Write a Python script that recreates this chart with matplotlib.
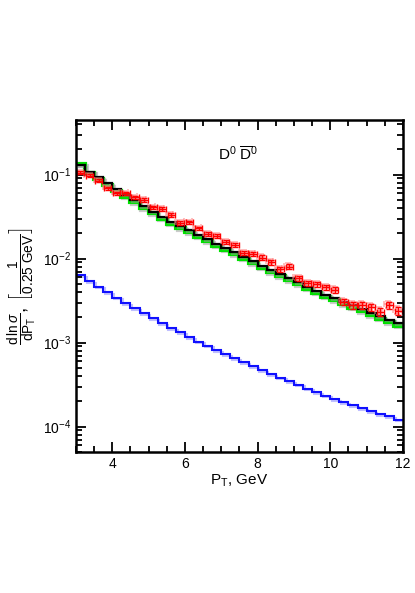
import numpy as np
import matplotlib
matplotlib.use('Agg')
import matplotlib.pyplot as plt
import matplotlib.patheffects as pe
import matplotlib.transforms as mtransforms
from matplotlib.ticker import MultipleLocator, LogLocator, NullFormatter

plt.rcParams['font.family'] = ['Liberation Sans', 'DejaVu Sans']
plt.rcParams['mathtext.fontset'] = 'custom'
plt.rcParams['mathtext.rm'] = 'Liberation Sans'
plt.rcParams['mathtext.it'] = 'Liberation Sans:italic'
plt.rcParams['mathtext.bf'] = 'Liberation Sans:bold'

# pT bins, 0.25 GeV wide
edges = np.arange(3.0, 12.01, 0.25)
centers = edges[:-1] + 0.125

# model histograms
black = [0.130, 0.109, 0.0933, 0.0793, 0.0671, 0.0578, 0.0497, 0.0422, 0.0363,
         0.0316, 0.0275, 0.0244, 0.0218, 0.0193, 0.0171, 0.0151, 0.0135, 0.0119,
         0.01056, 0.00934, 0.00826, 0.00730, 0.00654, 0.00586, 0.00525, 0.00464,
         0.00416, 0.00373, 0.00339, 0.00308, 0.00279, 0.00254, 0.00228, 0.00207,
         0.00188, 0.00171]
green = [0.133, 0.106, 0.0888, 0.0754, 0.0638, 0.0549, 0.0472, 0.0401, 0.0345,
         0.0300, 0.0261, 0.0232, 0.0207, 0.0183, 0.0162, 0.0143, 0.0128, 0.0113,
         0.0100, 0.00885, 0.00783, 0.00692, 0.00619, 0.00554, 0.00496, 0.00438,
         0.00392, 0.00351, 0.00318, 0.00289, 0.00261, 0.00237, 0.00213, 0.00193,
         0.00175, 0.00159]
blue = [6.36e-3, 5.40e-3, 4.64e-3, 3.99e-3, 3.43e-3, 2.95e-3, 2.57e-3, 2.24e-3,
        1.96e-3, 1.71e-3, 1.49e-3, 1.32e-3, 1.16e-3, 1.03e-3, 9.21e-4, 8.14e-4,
        7.30e-4, 6.54e-4, 5.86e-4, 5.25e-4, 4.71e-4, 4.22e-4, 3.83e-4, 3.48e-4,
        3.16e-4, 2.83e-4, 2.57e-4, 2.34e-4, 2.12e-4, 1.96e-4, 1.80e-4, 1.66e-4,
        1.53e-4, 1.41e-4, 1.32e-4, 1.21e-4]

# measured points
data = [0.106, 0.0968, 0.0843, 0.0686, 0.0603, 0.0598, 0.0536, 0.0501, 0.0407,
        0.0388, 0.0330, 0.0265, 0.0270, 0.0229, 0.0196, 0.0187, 0.0158, 0.0145,
        0.0116, 0.0113, 0.0103, 0.0090, 0.0075, 0.0080, 0.00586, 0.0051, 0.00493,
        0.00454, 0.00425, 0.00306, 0.00279, 0.00279, 0.00262, 0.00233, 0.00279,
        0.00239]
rel_err = [0.04, 0.04, 0.04, 0.04, 0.04, 0.04, 0.04, 0.05, 0.05, 0.05, 0.05, 0.05,
           0.05, 0.05, 0.05, 0.05, 0.06, 0.06, 0.06, 0.06, 0.06, 0.06, 0.07, 0.07,
           0.07, 0.07, 0.07, 0.08, 0.08, 0.08, 0.09, 0.09, 0.09, 0.10, 0.10, 0.11]

data = np.array(data)
yerr = data * np.array(rel_err)

fig = plt.figure(figsize=(4.15, 5.93), dpi=100)
ax = fig.add_axes([0.183, 0.238, 0.788, 0.560])

shadow = [pe.SimpleLineShadow(offset=(1.2, -1.2), shadow_color='0.6', alpha=0.5), pe.Normal()]
ax.stairs(green, edges, baseline=None, color='#00e000', lw=3.0, path_effects=shadow)
ax.stairs(black, edges, baseline=None, color='black', lw=1.6, path_effects=shadow)
ax.stairs(blue, edges, baseline=None, color='#1010ff', lw=1.5,
          path_effects=[pe.SimpleLineShadow(offset=(1.2, -1.2), shadow_color='#8080ff', alpha=0.5), pe.Normal()])

# pale copy of points, shifted a little
off = mtransforms.ScaledTranslation(-1.5 / 100, 1.0 / 100, fig.dpi_scale_trans)
ax.errorbar(centers, data, yerr=yerr, xerr=0.1, fmt='none', ecolor='#ff8080',
            elinewidth=1.2, capsize=2, capthick=1.2, alpha=0.6,
            transform=ax.transData + off)
ax.errorbar(centers, data, yerr=yerr, xerr=0.1, fmt='none', ecolor='red',
            elinewidth=1.0, capsize=2, capthick=1.0)

ax.set_yscale('log')
ax.set_xlim(3, 12)
ax.set_ylim(5e-5, 0.45)

ax.xaxis.set_major_locator(MultipleLocator(2))
ax.xaxis.set_minor_locator(MultipleLocator(0.5))
ax.yaxis.set_major_locator(LogLocator(base=10))
ax.yaxis.set_minor_locator(LogLocator(base=10, subs=np.arange(2, 10)))
ax.yaxis.set_minor_formatter(NullFormatter())

ax.tick_params(which='both', direction='in', top=True, right=True, width=1.3, labelsize=10)
ax.tick_params(which='major', length=7)
ax.tick_params(which='minor', length=4)
for s in ax.spines.values():
    s.set_linewidth(1.8)

ax.set_xlabel(r'P$_\mathregular{T}$, GeV', fontsize=11, labelpad=1)
ax.set_ylabel(r'$\frac{\mathrm{d\,ln}\,\sigma}{\mathrm{dP_T}}$, $\left[\frac{1}{0.25\ \mathrm{GeV}}\right]$',
              fontsize=14, labelpad=2)

ax.text(0.495, 0.895, r'D$^\mathregular{0}$ $\overline{\mathrm{D}}^\mathrm{0}$', transform=ax.transAxes,
        ha='center', va='center', fontsize=11)

fig.savefig('out.png', dpi=100)
